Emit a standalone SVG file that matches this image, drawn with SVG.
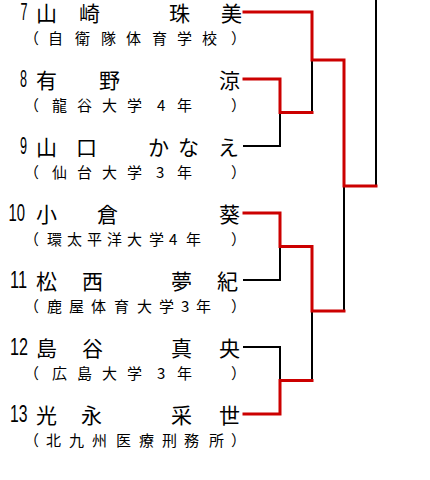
<svg xmlns="http://www.w3.org/2000/svg" width="430" height="480" viewBox="0 0 430 480">
<style>
.num{font-family:"Liberation Sans",Arial,sans-serif;font-size:23px;fill:#000}
.nm{font-family:"Noto Sans CJK JP","Noto Sans CJK SC",sans-serif;font-size:21px;fill:#000}
.af{font-family:"Noto Sans CJK JP","Noto Sans CJK SC",sans-serif;font-size:15px;fill:#000}
.lk{fill:none;stroke:#000;stroke-width:2;stroke-linecap:square}
.lr{fill:none;stroke:#cc0000;stroke-width:3;stroke-linecap:square;stroke-linejoin:miter}
</style>
<rect width="430" height="480" fill="#fff"/>
<g id="connectors">
<path class="lk" d="M376,0 V186"/>
<path class="lk" d="M312,60 V112.5"/>
<path class="lk" d="M244,146 H280 V112.5"/>
<path class="lk" d="M344,186 V311"/>
<path class="lk" d="M244,280 H280 V246.5"/>
<path class="lk" d="M244,347 H280 V380.5"/>
<path class="lk" d="M312,311 V380.5"/>
<path class="lr" d="M244,12 H312 V60 H344 V186 H376"/>
<path class="lr" d="M244,79 H280 V112.5 H312"/>
<path class="lr" d="M244,213 H280 V246.5 H312 V311 H344"/>
<path class="lr" d="M244,414 H280 V380.5 H312"/>
</g>
<g id="p7">
<text class="num" x="20.5" y="20" textLength="7" lengthAdjust="spacingAndGlyphs">7</text>
<text class="nm" x="36 79 169 221" y="21">山崎珠美</text>
<text class="af" x="24 48 75 101 126 152 177 202 231" y="44">（自衛隊体育学校）</text>
</g>
<g id="p8">
<text class="num" x="20" y="87" textLength="7" lengthAdjust="spacingAndGlyphs">8</text>
<text class="nm" x="36 99 219" y="88">有野涼</text>
<text class="af" x="24 52 77 102 127 157 177 231" y="111">（龍谷大学4年）</text>
</g>
<g id="p9">
<text class="num" x="20" y="154" textLength="7" lengthAdjust="spacingAndGlyphs">9</text>
<text class="nm" x="36 76 148 178 218" y="155">山口かなえ</text>
<text class="af" x="24 52 77 102 127 156 177 231" y="178">（仙台大学3年）</text>
</g>
<g id="p10">
<text class="num" x="8.5" y="221" textLength="16.5" lengthAdjust="spacingAndGlyphs">10</text>
<text class="nm" x="36 97 219" y="222">小倉葵</text>
<text class="af" x="24 47 67 87 107 127 149 169 186 231" y="245">（環太平洋大学4年）</text>
</g>
<g id="p11">
<text class="num" x="10" y="288" textLength="17" lengthAdjust="spacingAndGlyphs">11</text>
<text class="nm" x="36 82 171 217" y="289">松西夢紀</text>
<text class="af" x="24 47 69 91 114 137 159 181 196 231" y="312">（鹿屋体育大学3年）</text>
</g>
<g id="p12">
<text class="num" x="10" y="355" textLength="18" lengthAdjust="spacingAndGlyphs">12</text>
<text class="nm" x="36 82 171 219" y="356">島谷真央</text>
<text class="af" x="24 52 77 102 127 157 177 231" y="379">（広島大学3年）</text>
</g>
<g id="p13">
<text class="num" x="10" y="422" textLength="17.5" lengthAdjust="spacingAndGlyphs">13</text>
<text class="nm" x="36 81 171 219" y="423">光永采世</text>
<text class="af" x="24 46 69 92 116 139 162 184 209 231" y="446">（北九州医療刑務所）</text>
</g>
</svg>
